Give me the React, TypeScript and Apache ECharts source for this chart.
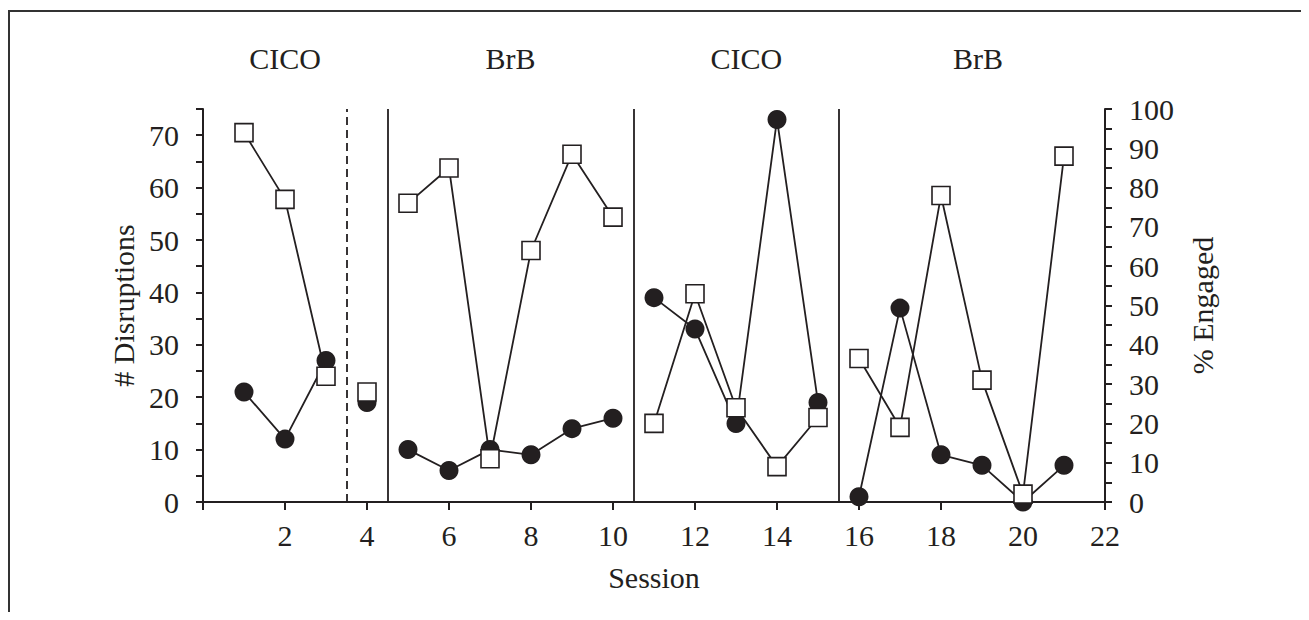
import React, { useEffect, useRef } from "react";
import * as echarts from "echarts";

const sessions: number[] = [1, 2, 3, 4, 5, 6, 7, 8, 9, 10, 11, 12, 13, 14, 15, 16, 17, 18, 19, 20, 21];
const disruptions: number[] = [21, 12, 27, 19, 10, 6, 10, 9, 14, 16, 39, 33, 15, 73, 19, 1, 37, 9, 7, 0, 7];
const engaged: number[] = [94, 77, 32, 28, 76, 85, 11, 64, 88.5, 72.5, 20, 53, 24, 9, 21.5, 36.5, 19, 78, 31, 2, 88];
// connected runs of sessions [first, last]
const segments: number[][] = [[1, 3], [4, 4], [5, 10], [11, 15], [16, 21]];
const phaseLines: number[] = [3.5, 4.5, 10.5, 15.5];
const phaseLineDashed: boolean[] = [true, false, false, false];
const phaseLabels: string[] = ["CICO", "BrB", "CICO", "BrB"];
const phaseLabelX: number[] = [2, 7.5, 13.25, 18.9];

const INK = "#231f20";
const FONT = "Liberation Serif";
const FS = 30;

export default function App() {
  const ref = useRef<HTMLDivElement>(null);
  useEffect(() => {
    if (!ref.current) return;
    const chart = echarts.init(ref.current, null, { renderer: "svg" });

    const pick = (arr: number[], s: number[]) =>
      sessions.filter((x) => x >= s[0] && x <= s[1]).map((x) => [x, arr[x - 1]]);

    const series: any[] = [];
    segments.forEach((seg, i) => {
      series.push({
        type: "line",
        yAxisIndex: 0,
        data: pick(disruptions, seg),
        symbol: "circle",
        symbolSize: 19,
        itemStyle: { color: INK },
        lineStyle: { color: INK, width: 1.8 },
        z: 2,
        markLine:
          i === 0
            ? {
                silent: true,
                symbol: "none",
                label: { show: false },
                data: phaseLines.map((v, k) => ({
                  xAxis: v,
                  lineStyle: { color: INK, width: 1.8, type: phaseLineDashed[k] ? [8, 5] : "solid" },
                })),
              }
            : undefined,
      });
    });
    segments.forEach((seg) => {
      series.push({
        type: "line",
        yAxisIndex: 1,
        data: pick(engaged, seg),
        symbol: "rect",
        symbolSize: 18,
        itemStyle: { color: "#ffffff", borderColor: INK, borderWidth: 1.6 },
        lineStyle: { color: INK, width: 1.8 },
        z: 3,
      });
    });

    const axisText = { color: INK, fontFamily: FONT, fontSize: FS };

    chart.setOption({
      animation: false,
      backgroundColor: "#ffffff",
      grid: { left: 195, right: 196, top: 101, bottom: 110 },
      xAxis: {
        type: "value",
        min: 0,
        max: 22,
        interval: 2,
        name: "Session",
        nameLocation: "middle",
        nameGap: 60,
        nameTextStyle: axisText,
        axisLine: { lineStyle: { color: INK, width: 2 } },
        axisTick: { length: 8, lineStyle: { color: INK, width: 2 } },
        axisLabel: { ...axisText, margin: 18, formatter: (v: number) => (v === 0 ? "" : String(v)) },
        splitLine: { show: false },
      },
      yAxis: [
        {
          type: "value",
          min: 0,
          max: 75,
          interval: 5,
          name: "# Disruptions",
          nameLocation: "middle",
          nameRotate: 90,
          nameGap: 64,
          nameTextStyle: axisText,
          axisLine: { show: true, lineStyle: { color: INK, width: 2 } },
          axisTick: { show: true, length: 7, lineStyle: { color: INK, width: 2 } },
          axisLabel: { ...axisText, margin: 24, formatter: (v: number) => (v % 10 === 0 ? String(v) : "") },
          splitLine: { show: false },
        },
        {
          type: "value",
          position: "right",
          min: 0,
          max: 100,
          interval: 5,
          name: "% Engaged",
          nameLocation: "middle",
          nameRotate: 90,
          nameGap: 82,
          nameTextStyle: axisText,
          axisLine: { show: true, lineStyle: { color: INK, width: 2 } },
          axisTick: { show: true, length: 7, lineStyle: { color: INK, width: 2 } },
          axisLabel: { ...axisText, margin: 24, formatter: (v: number) => (v % 10 === 0 ? String(v) : "") },
          splitLine: { show: false },
        },
      ],
      series,
    });

    const graphics: any[] = [
      { type: "line", shape: { x1: 0, y1: 3, x2: 1293, y2: 3 }, style: { stroke: "#333", lineWidth: 2 } },
      { type: "line", shape: { x1: 1, y1: 2, x2: 1, y2: 604 }, style: { stroke: "#333", lineWidth: 2 } },
    ];
    phaseLabels.forEach((t, i) => {
      const px = chart.convertToPixel({ xAxisIndex: 0 }, phaseLabelX[i]) as number;
      graphics.push({
        type: "text",
        x: px,
        y: 50,
        style: { text: t, fill: INK, fontFamily: FONT, fontSize: FS, textAlign: "center", textVerticalAlign: "middle" },
      });
    });
    chart.setOption({ graphic: graphics });

    return () => chart.dispose();
  }, []);
  return <div ref={ref} style={{ width: 1293, height: 604 }} />;
}
